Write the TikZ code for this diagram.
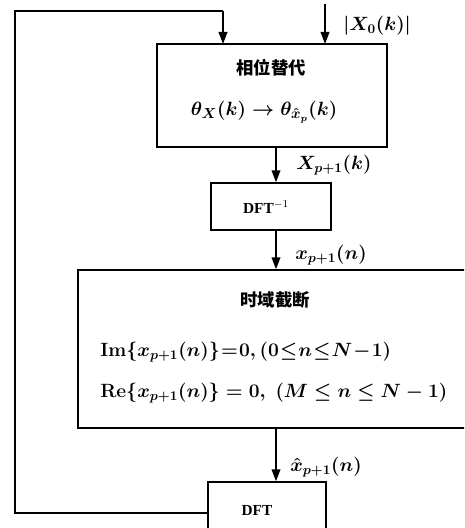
\documentclass[tikz,border=0pt]{standalone}
\usepackage[no-math]{fontspec}
\setmainfont{Liberation Serif}
\newfontfamily\cjk{Noto Sans CJK SC}
\usetikzlibrary{arrows.meta}
\begin{document}
\begin{tikzpicture}[x=0.75pt,y=-0.75pt,
  box/.style={draw,line width=1.1pt,inner sep=0pt},
  arr/.style={line width=1.3pt,-{Triangle[length=9pt,width=6.5pt]}},
  ln/.style={line width=1.3pt},
  lab/.style={anchor=west,inner sep=0pt,font=\fontsize{14}{17}\selectfont\boldmath},
  zh/.style={font=\cjk\bfseries\fontsize{13}{15}\selectfont},
  eq/.style={font=\fontsize{14}{17}\selectfont\boldmath,inner sep=0pt},
  dft/.style={font=\fontsize{11.5}{13}\selectfont\bfseries}]
\useasboundingbox (0,0) rectangle (464,528);
\clip (0,0) rectangle (464,528);
% boxes
\node[box,minimum width=230*0.75pt,minimum height=103*0.75pt] (b1) at (272,95.5) {};
\node[box,minimum width=120*0.75pt,minimum height=47*0.75pt] (b2) at (271,206.5) {};
\node[box,minimum width=400*0.75pt,minimum height=158*0.75pt] (b3) at (278,349) {};
\node[box,minimum width=118*0.75pt,minimum height=62*0.75pt] (b4) at (267,513) {};
% texts
\node[zh] (t1) at (271,68) {相位替代};
\node[eq,font=\fontsize{15}{18}\selectfont\boldmath] (f1) at (264,112) {$\theta_{X}(k)\rightarrow\theta_{\hat{x}_{p}}(k)$};
\node[dft] (t2) at (266,207) {DFT$^{-1}$};
\node[zh] (t3) at (275,300) {时域截断};
\node[eq,anchor=west] (f2) at (100,352) {\thickmuskip=1mu\medmuskip=1mu$\mathrm{Im}\{x_{p+1}(n)\}=0,(0\le n\le N-1)$};
\node[eq,anchor=west] (f3) at (100,393) {$\mathrm{Re}\{x_{p+1}(n)\}=0,\;(M\le n\le N-1)$};
\node[dft] (t4) at (257,510) {DFT};
% coordinates
\coordinate (in1) at (325,4);
\coordinate (b1in) at (325,44);
\coordinate (fb) at (223,44);
\coordinate (lt) at (15,11);
% connectors
\draw[arr] (in1) -- (b1in);
\draw[ln] (b4.west) -- (b4.west -| lt) -- (lt) -- (lt -| fb);
\draw[arr] (lt -| fb) -- (fb);
\draw[arr] (b1.south -| 276,0) -- (b2.north -| 276,0);
\draw[arr] (b2.south -| 276,0) -- (b3.north -| 276,0);
\draw[arr] (b3.south -| 276,0) -- (b4.north -| 276,0);
% labels
\node[lab] (l0) at (343,26) {$|X_{0}(k)|$};
\node[lab] (l1) at (296,165) {$X_{p+1}(k)$};
\node[lab] (l2) at (295,255) {$x_{p+1}(n)$};
\node[lab] (l3) at (290,467) {$\hat{x}_{p+1}(n)$};
\end{tikzpicture}
\end{document}
